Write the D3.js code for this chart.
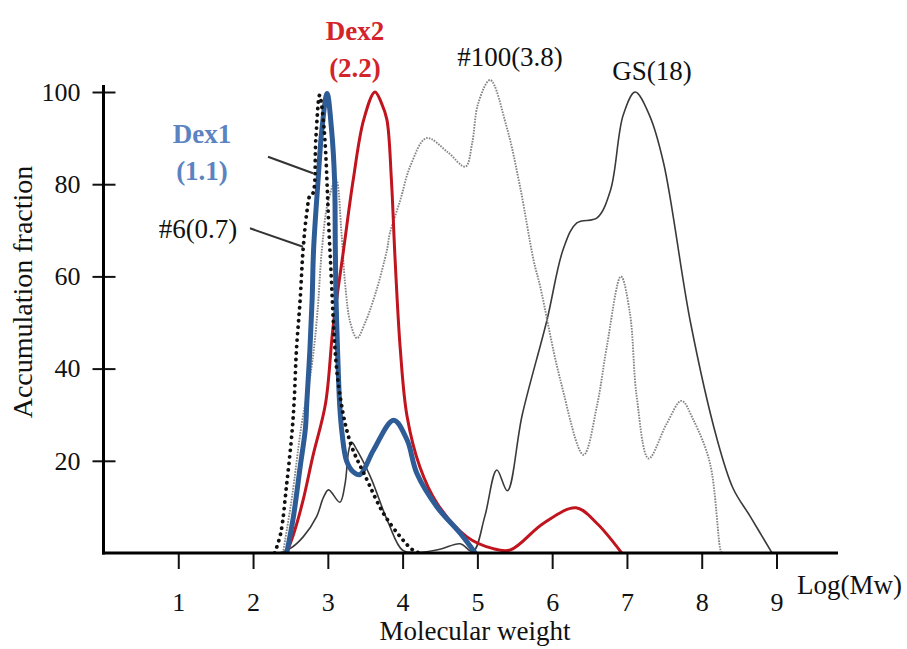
<!DOCTYPE html>
<html>
<head>
<meta charset="utf-8">
<script src="https://cdn.jsdelivr.net/npm/d3@7"></script>
<style>
  html, body { margin: 0; padding: 0; background: #fff; }
  svg { display: block; }
  text { font-family: "Liberation Serif", "Times New Roman", serif; }
</style>
</head>
<body>
<svg id="chart" width="907" height="649"></svg>
<script>
// Molecular weight distributions: [log(Mw), accumulation fraction]
const sample6 = [[2.29,0],[2.37,4.3],[2.45,15],[2.52,26],[2.55,33],[2.58,44],[2.63,55],[2.67,66],[2.72,74],[2.76,77.5],[2.80,78],[2.84,90],[2.89,99.3],[2.95,92],[3.03,65],[3.14,36.8],[3.30,24],[3.52,16],[3.74,8.7],[3.97,3.5],[4.14,0.6],[4.23,0]];
const dex1 = [[2.45,0],[2.54,7.9],[2.63,18.7],[2.70,27],[2.72,33],[2.76,44],[2.79,55],[2.81,66],[2.87,81],[2.92,91.8],[2.99,99.7],[3.05,91.8],[3.09,81],[3.10,66.4],[3.11,55],[3.13,44],[3.16,31.7],[3.19,26],[3.25,20],[3.34,17.6],[3.43,17],[3.61,22.3],[3.88,28.8],[4.06,24.5],[4.19,17.3],[4.46,10],[4.77,4.3],[4.97,0]];
const dex2 = [[2.45,0],[2.55,4.5],[2.67,11.5],[2.80,21],[2.97,32.5],[3.07,49],[3.21,65.7],[3.34,81],[3.48,94],[3.63,100],[3.72,97.5],[3.79,94],[3.85,81],[3.90,63.5],[3.97,44],[4.06,29.6],[4.23,18.7],[4.46,10.8],[4.86,3.5],[5.20,1],[5.44,0.65],[5.88,6.4],[6.32,9.8],[6.60,6.4],[6.93,0]];
const sample100 = [[2.40,0],[2.52,12],[2.65,28],[2.78,40],[2.86,52],[2.92,65.7],[3.00,76],[3.11,81],[3.18,70],[3.23,58.6],[3.30,50],[3.39,46.6],[3.50,50],[3.65,57],[3.79,65.7],[3.83,69.4],[3.97,76.6],[4.10,83.8],[4.32,90],[4.60,87],[4.84,83.8],[4.93,88.9],[5.01,97.5],[5.17,102.6],[5.39,92.5],[5.57,79.5],[5.75,63.6],[5.84,57.8],[6.11,37.5],[6.42,21.3],[6.60,32],[6.73,44.7],[6.92,60],[7.04,52],[7.13,34],[7.29,20.5],[7.53,28],[7.73,33],[7.89,28.8],[8.11,19.5],[8.25,0.7],[8.27,0]];
const gs = [[2.35,0],[2.50,1],[2.67,3.5],[2.85,7.9],[2.94,12],[3.01,13.7],[3.16,11],[3.23,15],[3.28,22.3],[3.32,24],[3.39,22.3],[3.57,16.5],[3.81,6.5],[4.00,0.6],[4.20,0.1],[4.50,0.8],[4.77,2],[4.94,0.3],[5.10,8],[5.26,18],[5.40,13.5],[5.60,30],[5.93,50.5],[6.15,66],[6.33,71.6],[6.60,72.7],[6.78,78.7],[6.95,95],[7.11,100],[7.30,95],[7.49,84.6],[7.85,50],[8.20,25],[8.42,14],[8.65,7.9],[8.94,0]];

const xTicks = [1, 2, 3, 4, 5, 6, 7, 8, 9];
const yTicks = [20, 40, 60, 80, 100];

const svg = d3.select("#chart");
const x = d3.scaleLinear().domain([0, 9]).range([103.5, 776.5]);
const y = d3.scaleLinear().domain([0, 100]).range([553, 92]);

// Keep curves from dipping below the baseline
svg.append("defs").append("clipPath").attr("id", "plot")
  .append("rect").attr("x", x(0)).attr("y", 40).attr("width", 760).attr("height", y(0) - 40);

const line = d3.line()
  .x(d => x(d[0]))
  .y(d => y(d[1]))
  .curve(d3.curveCatmullRom.alpha(0.5));

const series = [
  { data: gs,        stroke: "#3a3a3a", width: 1.6, dash: null, cap: "butt" },
  { data: sample100, stroke: "#858585", width: 1.9, dash: "1.6 1.2", cap: "butt" },
  { data: dex2,      stroke: "#c0141e", width: 3,   dash: null, cap: "round" },
  { data: dex1,      stroke: "#2e5c96", width: 5,   dash: null, cap: "round" },
  { data: sample6,   stroke: "#111",    width: 3.8, dash: "0.1 6.4", cap: "round" }
];

svg.append("g").attr("clip-path", "url(#plot)").selectAll("path")
  .data(series)
  .join("path")
  .attr("d", d => line(d.data))
  .attr("fill", "none")
  .attr("stroke", d => d.stroke)
  .attr("stroke-width", d => d.width)
  .attr("stroke-dasharray", d => d.dash)
  .attr("stroke-linecap", d => d.cap)
  .attr("stroke-linejoin", "round");

// X axis: ticks hang below the baseline
const xAxis = svg.append("g").attr("transform", `translate(0,${y(0)})`)
  .call(d3.axisBottom(x).tickValues(xTicks).tickSize(16).tickPadding(24).tickFormat(d3.format("d")));
xAxis.select(".domain").remove();
xAxis.selectAll(".tick line").attr("stroke", "#111").attr("stroke-width", 2);
xAxis.selectAll(".tick text").attr("font-size", 26).attr("fill", "#111")
  .attr("font-family", "Liberation Serif");

// Y axis: ticks cross the axis line
const yAxis = svg.append("g").attr("transform", `translate(${x(0) - 11},0)`)
  .call(d3.axisRight(y).tickValues(yTicks).tickSize(23).tickFormat(d3.format("d")));
yAxis.select(".domain").remove();
yAxis.selectAll(".tick line").attr("stroke", "#111").attr("stroke-width", 2);
yAxis.selectAll(".tick text").attr("x", -12).attr("text-anchor", "end")
  .attr("font-size", 26).attr("fill", "#111").attr("font-family", "Liberation Serif");

// Axis lines
svg.append("line").attr("x1", x(0)).attr("x2", x(0)).attr("y1", 85).attr("y2", y(0) + 1.5)
  .attr("stroke", "#000").attr("stroke-width", 3);
svg.append("line").attr("x1", x(0) - 1.5).attr("x2", 838).attr("y1", y(0)).attr("y2", y(0))
  .attr("stroke", "#000").attr("stroke-width", 3);

// Axis titles
svg.append("text").attr("x", 797).attr("y", 594).attr("font-size", 27).attr("fill", "#111")
  .text("Log(Mw)");
svg.append("text").attr("x", 475).attr("y", 640).attr("text-anchor", "middle")
  .attr("font-size", 27).attr("fill", "#111").text("Molecular weight");
svg.append("text").attr("transform", "translate(32,292) rotate(-90)")
  .attr("text-anchor", "middle").attr("font-size", 28).attr("fill", "#111")
  .text("Accumulation fraction");

// Series labels
const labels = [
  { lines: ["Dex2", "(2.2)"], x: 355, y: 40, color: "#d3232b", bold: true },
  { lines: ["Dex1", "(1.1)"], x: 202, y: 143, color: "#5b83c2", bold: true },
  { lines: ["#6(0.7)"], x: 198, y: 238, color: "#111", bold: false },
  { lines: ["#100(3.8)"], x: 510, y: 66, color: "#111", bold: false },
  { lines: ["GS(18)"], x: 652, y: 80, color: "#111", bold: false }
];
labels.forEach(l => {
  const t = svg.append("text").attr("text-anchor", "middle")
    .attr("font-size", 27).attr("fill", l.color)
    .attr("font-weight", l.bold ? "bold" : "normal");
  l.lines.forEach((s, i) => {
    t.append("tspan").attr("x", l.x).attr("y", l.y + i * 37).text(s);
  });
});

// Leader lines
const leaders = [[268, 156.7, 313, 173.3], [250, 228.3, 303, 246.7]];
svg.append("g").selectAll("line").data(leaders).join("line")
  .attr("x1", d => d[0]).attr("y1", d => d[1]).attr("x2", d => d[2]).attr("y2", d => d[3])
  .attr("stroke", "#333").attr("stroke-width", 2);
</script>
</body>
</html>
